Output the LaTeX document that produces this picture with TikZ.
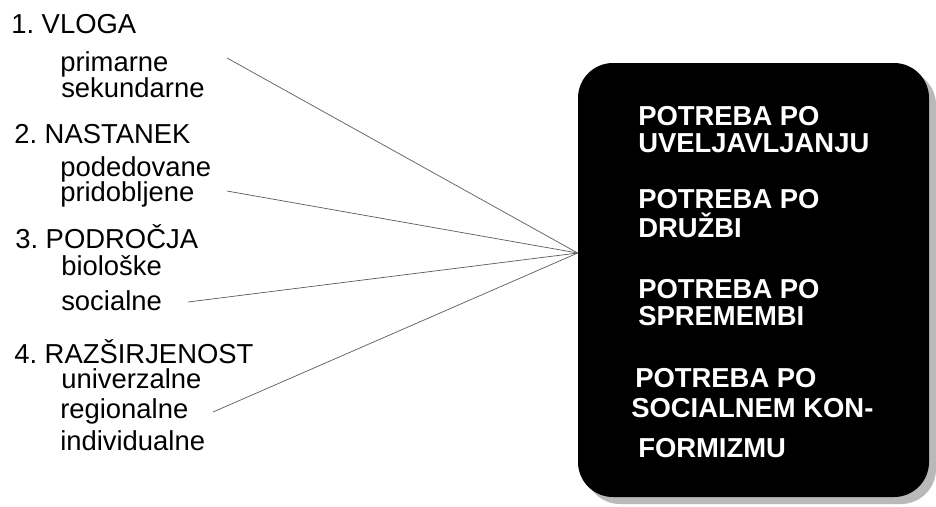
\documentclass[tikz,border=0pt]{standalone}
\usepackage{fontspec}
\setmainfont{Liberation Sans}
\usetikzlibrary{shadows}
\frenchspacing

\begin{document}
\begin{tikzpicture}[x=0.25mm,y=-0.25mm,
    every node/.style={font=\fontsize{19.5}{23}\selectfont,inner sep=0pt,anchor=base west}]
  \definecolor{linkgray}{RGB}{90,90,90}
  \tikzset{
    needbox/.style={fill=black,rounded corners=8.75mm,anchor=center,
      minimum width=87.75mm,minimum height=108.5mm,
      drop shadow={shadow xshift=1.75mm,shadow yshift=-1.75mm,fill=gray!55,opacity=1}},
    needtext/.style={text=white,font=\fontsize{19.5}{23}\selectfont\bfseries},
    link/.style={linkgray,line width=0.5pt}
  }
  \useasboundingbox (0,0) rectangle (936,506);
  % kinds of needs
  \node (vloga) at (11,33) {1. VLOGA};
  \node (prim) at (60,71) {primarne};
  \node (sek) at (61,97) {sekundarne};
  \node (nast) at (14,143) {2. NASTANEK};
  \node (pod) at (60,176) {podedovane};
  \node (prid) at (60,201) {pridobljene};
  \node (podr) at (15,248) {3. PODROČJA};
  \node (bio) at (61,275) {biološke};
  \node (soc) at (61,310) {socialne};
  \node (razs) at (14,363) {4. RAZŠIRJENOST};
  \node (univ) at (61,388) {univerzalne};
  \node (reg) at (60,418) {regionalne};
  \node (indiv) at (60,450) {individualne};
  % the box with the social needs
  \node[needbox] (needs) at (753.5,280) {};
  \node[needtext] (uvelj1) at (638,125) {POTREBA PO};
  \node[needtext] (uvelj2) at (638,152) {UVELJAVLJANJU};
  \node[needtext] (druz1) at (638,208) {POTREBA PO};
  \node[needtext] (druz2) at (638,237) {DRUŽBI};
  \node[needtext] (sprem1) at (638,298) {POTREBA PO};
  \node[needtext] (sprem2) at (638,325) {SPREMEMBI};
  \node[needtext] (konf1) at (635,387) {POTREBA PO};
  \node[needtext] (konf2) at (631,417) {SOCIALNEM KON-};
  \node[needtext] (konf3) at (638,457) {FORMIZMU};
  % connectors
  \coordinate (hub) at ([yshift=6.75mm]needs.west);
  \coordinate (vloga-end) at (227,58);
  \coordinate (nast-end) at (227,191);
  \coordinate (podr-end) at (188,302);
  \coordinate (razs-end) at (213,412);
  \draw[link] (vloga-end) -- (hub);
  \draw[link] (nast-end) -- (hub);
  \draw[link] (podr-end) -- (hub);
  \draw[link] (razs-end) -- (hub);
\end{tikzpicture}
\end{document}
